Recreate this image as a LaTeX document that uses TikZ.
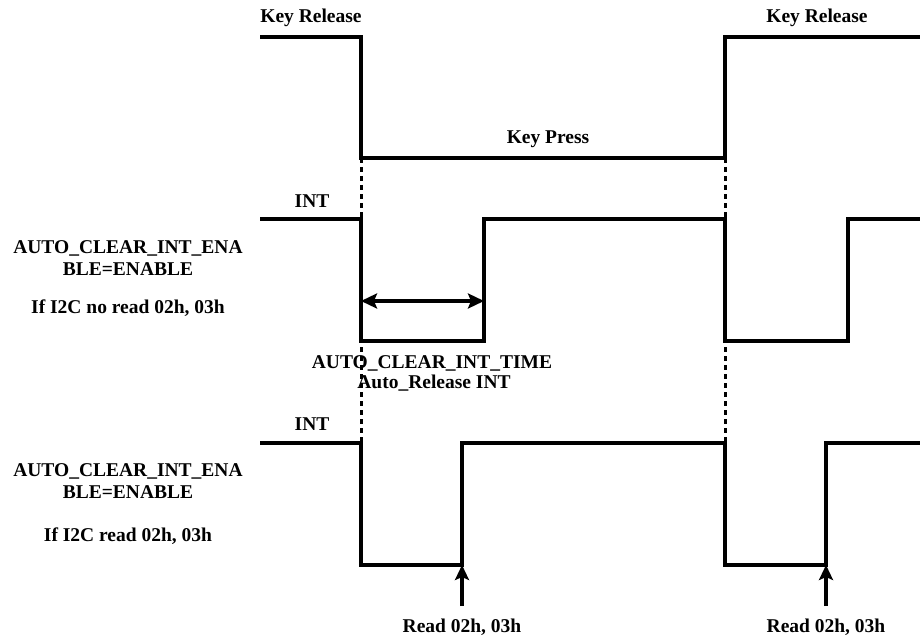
\documentclass[tikz,border=0pt]{standalone}
\usepackage{fontspec}
\setmainfont{Liberation Serif}
\usetikzlibrary{arrows.meta}

\begin{document}
\begin{tikzpicture}[
    x=1pt, y=-1pt,
    every node/.style={font=\bfseries\fontsize{19.5}{22}\selectfont, inner sep=0pt},
    wave/.style={line width=3.4pt, line join=miter},
    guide/.style={line width=3pt, dash pattern=on 5pt off 4pt},
    arrow/.style={-{Stealth[length=15pt, width=14pt, inset=3pt]}, line width=3.2pt},
    darrow/.style={{Stealth[length=16pt, width=15pt, inset=3pt]}-{Stealth[length=16pt, width=15pt, inset=3pt]}, line width=3.2pt},
    lbl/.style={anchor=base},
    side/.style={align=center}
  ]
  \useasboundingbox (0,0) rectangle (920,639);

  % dotted guides under the key edges
  \draw[guide] (361,158) -- (361,443);
  \draw[guide] (725,158) -- (725,443);

  % key line
  \draw[wave] (260,37) -| (361,158) -| (725,37) -- (922,37);
  \node[lbl] (rel1) at (311,23) {Key Release};
  \node[lbl] (rel2) at (817,23) {Key Release};
  \node[lbl] (press) at (548,144) {Key Press};

  % INT, no I2C read
  \draw[wave] (260,219) -| (361,341) -| (484,219) -| (725,341) -| (848,219) -- (922,219);
  \node[lbl] (int1) at (312,207) {INT};
  \node[side] (mode1) at (128,258) {AUTO\_CLEAR\_INT\_ENA\\BLE=ENABLE};
  \node (cond1) at (128,308) {If I2C no read 02h, 03h};
  \coordinate (t0) at (361,301);
  \coordinate (t1) at (484,301);
  \draw[darrow] (t0) -- (t1);
  \node[lbl] (time) at (432,368) {AUTO\_CLEAR\_INT\_TIME};
  \node[lbl] (auto) at (434,388) {Auto\_Release INT};

  % INT, I2C read
  \draw[wave] (260,443) -| (361,565) -| (462,443) -| (725,565) -| (826,443) -- (922,443);
  \node[lbl] (int2) at (312,430) {INT};
  \node[side] (mode2) at (128,481) {AUTO\_CLEAR\_INT\_ENA\\BLE=ENABLE};
  \node (cond2) at (128,536) {If I2C read 02h, 03h};

  \coordinate (rd1) at (462,565);
  \coordinate (rd1s) at (462,606);
  \coordinate (rd2) at (826,565);
  \coordinate (rd2s) at (826,606);
  \draw[arrow] (rd1s) -- (rd1);
  \draw[arrow] (rd2s) -- (rd2);
  \node[lbl] (read1) at (462,632) {Read 02h, 03h};
  \node[lbl] (read2) at (826,632) {Read 02h, 03h};

\end{tikzpicture}
\end{document}
